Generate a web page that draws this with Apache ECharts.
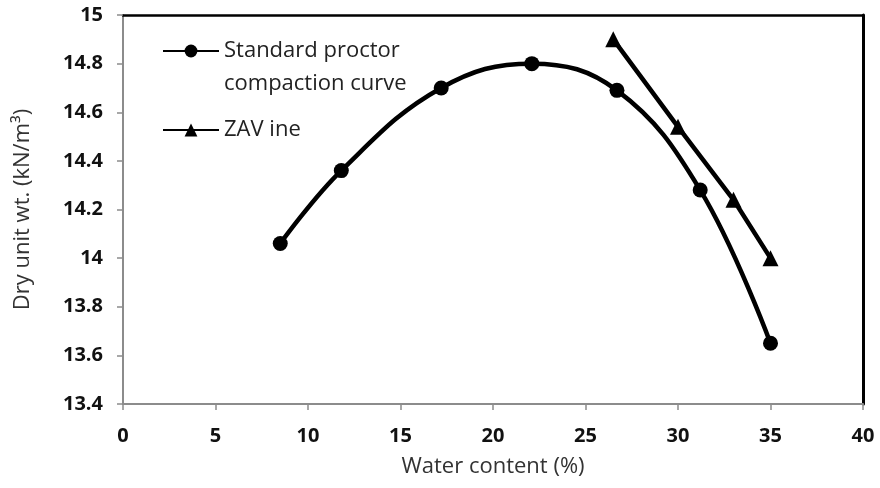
<!DOCTYPE html>
<html>
<head>
<meta charset="utf-8">
<script src="https://cdn.jsdelivr.net/npm/echarts@6/dist/echarts.min.js"></script>
<style>html,body{margin:0;padding:0;background:#fff}#c{width:880px;height:488px}</style>
</head>
<body>
<div id="c"></div>
<script>
var proctorX = [8.5, 11.8, 17.2, 22.1, 26.7, 31.2, 35.0];
var proctorY = [14.06, 14.36, 14.70, 14.80, 14.69, 14.28, 13.65];
var zavX = [26.5, 30.0, 33.0, 35.0];
var zavY = [14.90, 14.54, 14.24, 14.00];
var xTicks = [0, 5, 10, 15, 20, 25, 30, 35, 40];
var yTicks = [13.4, 13.6, 13.8, 14, 14.2, 14.4, 14.6, 14.8, 15];
var seriesNames = ['Standard proctor\ncompaction curve', 'ZAV ine'];
var xTitle = 'Water content (%)';
var yTitle = 'Dry unit wt. (kN/m\u00B3)';

function pairs(xs, ys) { return xs.map(function (x, i) { return [x, ys[i]]; }); }

var font = '"Open Sans", Lato, sans-serif';
var chart = echarts.init(document.getElementById('c'));
chart.setOption({
  animation: false,
  backgroundColor: '#fff',
  grid: { left: 123, right: 17, top: 15, bottom: 84 },
  legend: {
    orient: 'vertical', left: 157, top: 2, itemWidth: 56, itemHeight: 16, itemGap: 24,
    data: seriesNames,
    formatter: function (name) {
      var lines = name.split('\n');
      if (lines.length === 1) return '{a|' + name + '}';
      return '{e| }\n' + lines.map(function (l) { return '{a|' + l + '}'; }).join('\n');
    },
    textStyle: {
      fontFamily: font, fontSize: 22, color: '#222',
      rich: {
        a: { fontFamily: font, fontSize: 22, color: '#222', lineHeight: 33 },
        e: { fontFamily: font, fontSize: 22, lineHeight: 33 }
      }
    }
  },
  xAxis: [{
    type: 'value', min: 0, max: 40, interval: 5,
    name: xTitle, nameLocation: 'middle', nameGap: 52,
    nameTextStyle: { fontFamily: font, fontSize: 22, color: '#333' },
    axisLine: { onZero: false, lineStyle: { color: '#8c8c8c', width: 2 } },
    axisTick: { show: true, length: 6, lineStyle: { color: '#8c8c8c', width: 1.5 } },
    axisLabel: { fontFamily: font, fontSize: 20, fontWeight: 'bold', color: '#111', margin: 22,
      formatter: function (v) { return xTicks.indexOf(v) >= 0 ? String(v) : ''; } },
    splitLine: { show: false }
  }, {
    type: 'value', position: 'top', min: 0, max: 40,
    axisLine: { show: true, onZero: false, lineStyle: { color: '#000', width: 2.5 } },
    axisTick: { show: false }, axisLabel: { show: false }, splitLine: { show: false }
  }],
  yAxis: [{
    type: 'value', min: 13.4, max: 15, interval: 0.2,
    name: yTitle, nameLocation: 'middle', nameGap: 89,
    nameTextStyle: { fontFamily: font, fontSize: 22, color: '#333' },
    axisLine: { show: true, onZero: false, lineStyle: { color: '#8c8c8c', width: 2 } },
    axisTick: { show: true, length: 6, lineStyle: { color: '#8c8c8c', width: 1.5 } },
    axisLabel: { fontFamily: font, fontSize: 20, fontWeight: 'bold', color: '#111', margin: 20,
      formatter: function (v) {
        var r = Math.round(v * 10) / 10;
        for (var i = 0; i < yTicks.length; i++) { if (Math.abs(yTicks[i] - r) < 1e-6) return String(yTicks[i]); }
        return '';
      } },
    splitLine: { show: false }
  }, {
    type: 'value', position: 'right', min: 13.4, max: 15,
    axisLine: { show: true, onZero: false, lineStyle: { color: '#000', width: 3 } },
    axisTick: { show: false }, axisLabel: { show: false }, splitLine: { show: false }
  }],
  series: [{
    name: seriesNames[0], type: 'line', smooth: 0.4,
    data: pairs(proctorX, proctorY),
    symbol: 'circle', symbolSize: 15,
    lineStyle: { color: '#000', width: 4.5 },
    itemStyle: { color: '#000' }
  }, {
    name: seriesNames[1], type: 'line', smooth: false,
    data: pairs(zavX, zavY),
    symbol: 'triangle', symbolSize: 16,
    lineStyle: { color: '#000', width: 4.5 },
    itemStyle: { color: '#000' }
  }]
});
</script>
</body>
</html>
